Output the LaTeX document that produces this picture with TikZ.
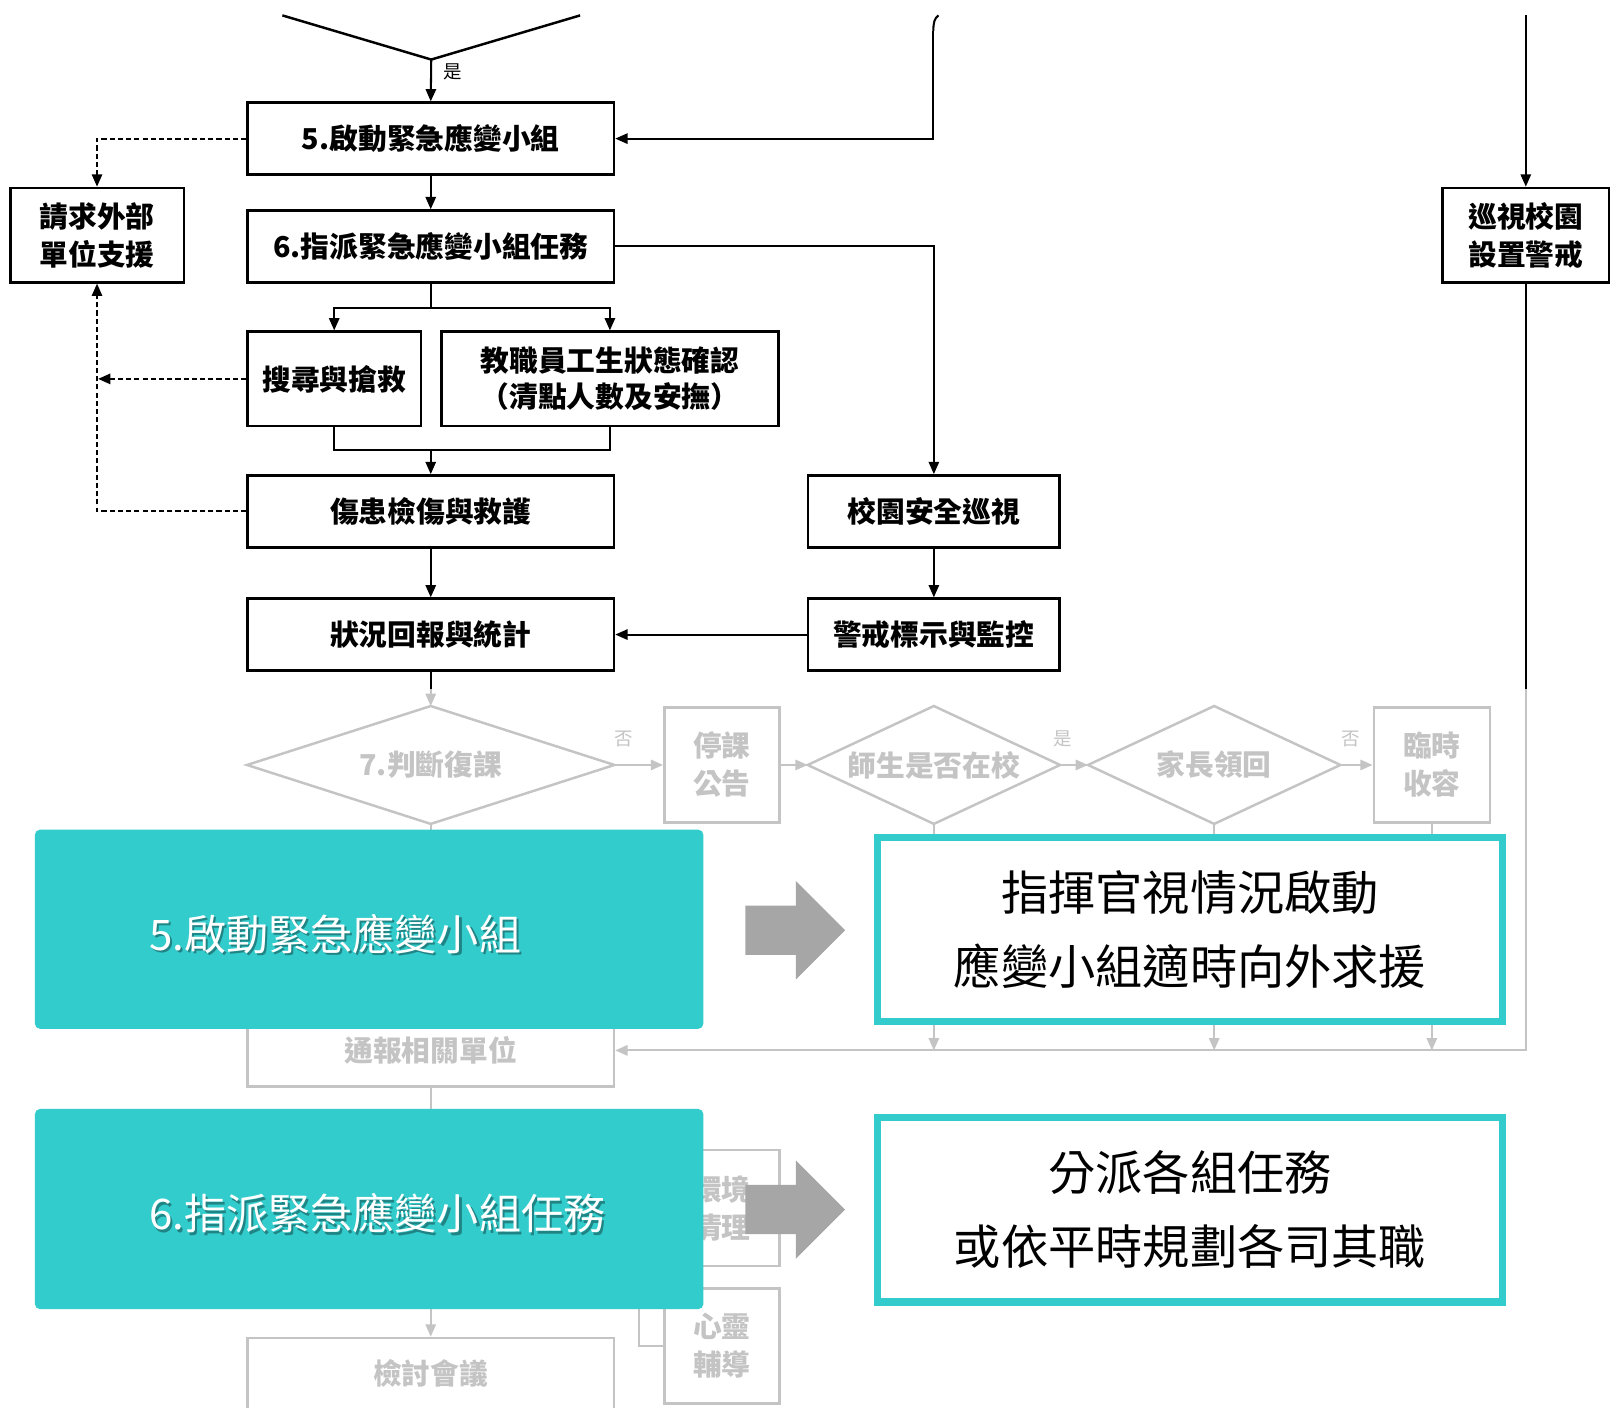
\documentclass[tikz,border=0pt]{standalone}
\usepackage{fontspec}
\setmainfont{Noto Sans CJK TC}
\usetikzlibrary{arrows.meta}
\definecolor{tealbg}{RGB}{51,204,204}
\definecolor{garrow}{RGB}{166,166,166}
\newcommand{\flowfont}{\fontsize{14}{18.5}\selectfont\bfseries}
\begin{document}
\begin{tikzpicture}[x=0.5pt,y=-0.5pt,
  fbox/.style={draw, line width=1.2pt, inner sep=0pt, align=center, font=\flowfont, fill=white},
  dia/.style={inner sep=0pt, align=center, font=\flowfont},
  con/.style={line width=1pt, -{Triangle[length=6pt,width=5pt]}},
  plain/.style={line width=1pt},
  dsh/.style={line width=1pt, dash pattern=on 2.5pt off 1.5pt},
  lbl/.style={font=\fontsize{9}{10}\selectfont, inner sep=0pt},
  tealbox/.style={fill=tealbg, rounded corners=2.5pt, inner sep=0pt},
  ttext/.style={text=white, font=\fontsize{20.5}{24}\selectfont, inner sep=0pt},
  tshadow/.style={text=black, opacity=0.35, font=\fontsize{20.5}{24}\selectfont, inner sep=0pt},
  obox/.style={draw=tealbg, line width=3.5pt, fill=white, inner sep=0pt, align=center, font=\fontsize{23}{36}\selectfont}
]
\useasboundingbox (0,0) rectangle (1568,1371);
\fill[white] (0,0) rectangle (1568,1371);

% ---------- top part ----------
\coordinate (td) at (420,58);
\draw[line width=1.2pt] (275,15) -- (td) -- (565,15);
\node[lbl] at (441,70) {是};

\node[fbox, minimum width=178.5pt, minimum height=35pt] (b5) at (419.5,135) {5.啟動緊急應變小組};
\node[fbox, minimum width=84.5pt, minimum height=46pt] (ext) at (94.5,229) {請求外部\\單位支援};
\node[fbox, minimum width=178.5pt, minimum height=35pt] (b6) at (419.5,240) {6.指派緊急應變小組任務};
\node[fbox, minimum width=84.5pt, minimum height=46pt] (search) at (325.5,369) {搜尋與搶救};
\node[fbox, minimum width=164pt, minimum height=46pt, font=\fontsize{14}{17.5}\selectfont\bfseries] (staff) at (594,369) {教職員工生狀態確認\\（清點人數及安撫）};
\node[fbox, minimum width=178.5pt, minimum height=35pt] (injury) at (419.5,498) {傷患檢傷與救護};
\node[fbox, minimum width=122.5pt, minimum height=35pt] (patrolS) at (909.5,498) {校園安全巡視};
\node[fbox, minimum width=178.5pt, minimum height=35pt] (report) at (419.5,618) {狀況回報與統計};
\node[fbox, minimum width=122.5pt, minimum height=35pt] (warn) at (909.5,618) {警戒標示與監控};
\node[fbox, minimum width=81pt, minimum height=46pt] (patrolR) at (1486,229) {巡視校園\\設置警戒};

\draw[con] (td) -- (b5.north);
\coordinate (rtopA) at (914,15);
\coordinate (rtopB) at (909,30);
\draw[plain] (rtopA) .. controls (910,18) and (909,22) .. (rtopB);
\draw[con] (rtopB) |- (b5.east);
\draw[con] (b5.south) -- (b6.north);
\draw[con] (b6.east) -| (patrolS.north);
\coordinate (sp) at (419.5,300);
\draw[plain] (b6.south) -- (sp);
\draw[con] (sp) -| (search.north);
\draw[con] (sp) -| (staff.north);
\coordinate (mg) at (419.5,438);
\draw[plain] (search.south) |- (mg);
\draw[plain] (staff.south) |- (mg);
\draw[con] (mg) -- (injury.north);
\draw[con] (injury.south) -- (report.north);
\draw[con] (patrolS.south) -- (warn.north);
\draw[con] (warn.west) -- (report.east);

\draw[dsh, -{Triangle[length=6pt,width=5pt]}] (b5.west) -| (ext.north);
\draw[dsh, -{Triangle[length=6pt,width=5pt]}] (injury.west) -| (ext.south);
\draw[dsh, -{Triangle[length=6pt,width=5pt]}] (search.west) -- ([xshift=0.5pt]search.west -| ext.south);

\coordinate (rtop) at (1486,15);
\draw[con] (rtop) -- (patrolR.north);

% ---------- lower (faded) part ----------
\node[dia, minimum width=178.5pt, minimum height=57pt] (d7) at (419.5,745) {7.判斷復課};
\node[fbox, minimum width=56pt, minimum height=56pt] (stop) at (703,745) {停課\\公告};
\node[dia, minimum width=122.5pt, minimum height=57pt] (d8) at (909.5,745) {師生是否在校};
\node[dia, minimum width=122.5pt, minimum height=57pt] (d9) at (1182.5,745) {家長領回};
\node[fbox, minimum width=56.5pt, minimum height=56pt] (shelter) at (1394.5,745) {臨時\\收容};
\foreach \d in {d7,d8,d9}
  \draw[line width=1.2pt] (\d.west) -- (\d.north) -- (\d.east) -- (\d.south) -- cycle;
\node[lbl] at (607,720) {否};
\node[lbl] at (1035,720) {是};
\node[lbl] at (1315,720) {否};

\node[fbox, minimum width=178.5pt, minimum height=35pt] (notify) at (419.5,1023) {通報相關單位};
\node[fbox, minimum width=56pt, minimum height=56.5pt] (clean) at (703,1176.5) {環境\\清理};
\node[fbox, minimum width=56pt, minimum height=56pt] (mind) at (703,1311) {心靈\\輔導};
\node[fbox, minimum width=178.5pt, minimum height=35pt] (review) at (419.5,1338) {檢討會議};

\draw[con] (report.south) -- (d7.north);
\draw[con] (d7.east) -- (stop.west);
\draw[con] (stop.east) -- (d8.west);
\draw[con] (d8.east) -- (d9.west);
\draw[con] (d9.east) -- (shelter.west);
\draw[con] (d7.south) -- (notify.north);
\draw[con] (patrolR.south) |- (notify.east);
\draw[con] (d8.south) -- (d8.south |- notify.east);
\draw[con] (d9.south) -- (d9.south |- notify.east);
\draw[con] (shelter.south) -- (shelter.south |- notify.east);
\draw[con] (notify.south) -- (review.north);
\coordinate (brk) at (622,1176.5);
\draw[plain] (clean.west) -- (brk) |- (mind.west);

% fade overlay
\fill[white, fill opacity=0.77] (0,671) rectangle (1568,1371);

% ---------- highlight panels ----------
\node[tealbox, minimum width=325.5pt, minimum height=97pt] (t5) at (359.5,905) {};
\node[tshadow, anchor=west] at (147,912) {5.啟動緊急應變小組};
\node[ttext, anchor=west] (t5txt) at (145,910) {5.啟動緊急應變小組};
\node[tealbox, minimum width=325.5pt, minimum height=97.5pt] (t6) at (359.5,1177.5) {};
\node[tshadow, anchor=west] at (147,1184) {6.指派緊急應變小組任務};
\node[ttext, anchor=west] (t6txt) at (145,1182) {6.指派緊急應變小組任務};

\fill[garrow] (726,882) -- (775,882) -- (775,858) -- (823,906) -- (775,954) -- (775,930) -- (726,930) -- cycle;
\fill[garrow] (726,1154) -- (775,1154) -- (775,1130) -- (823,1178) -- (775,1226) -- (775,1202) -- (726,1202) -- cycle;

\node[obox, minimum width=304.5pt, minimum height=89.5pt] (r5) at (1159,905) {指揮官視情況啟動\\應變小組適時向外求援};
\node[obox, minimum width=304.5pt, minimum height=90pt] (r6) at (1159,1178) {分派各組任務\\或依平時規劃各司其職};
\end{tikzpicture}
\end{document}
